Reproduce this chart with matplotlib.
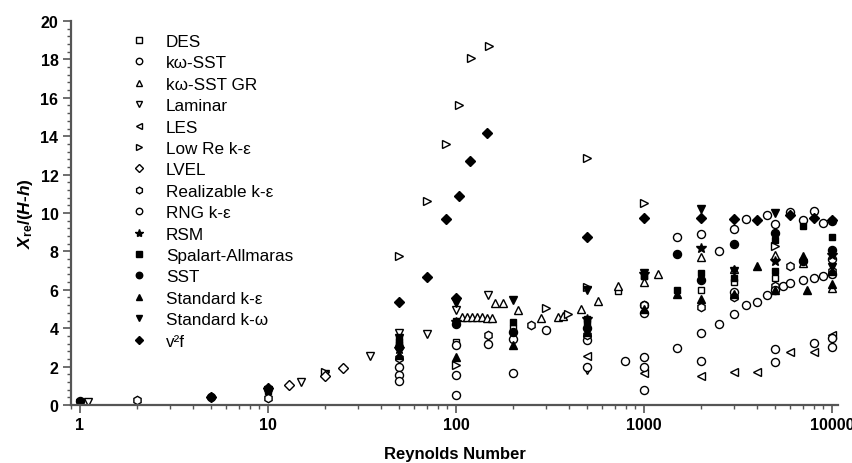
import matplotlib
matplotlib.use("Agg")
import matplotlib.pyplot as plt
from matplotlib.ticker import AutoMinorLocator, LogLocator, NullFormatter

plt.rcParams['font.family'] = ['Liberation Sans', 'DejaVu Sans']
plt.rcParams['mathtext.fontset'] = 'custom'
plt.rcParams['mathtext.it'] = 'Liberation Sans:italic:bold'
plt.rcParams['mathtext.rm'] = 'Liberation Sans:bold'
plt.rcParams['mathtext.bf'] = 'Liberation Sans:bold'

# ---------------- data (Reynolds number, Xre/(H-h)) ----------------
des_x = [50, 50, 100, 200, 500, 730, 1000, 2000, 3000, 5000, 10000]
des_y = [3.2, 3.55, 3.3, 4.0, 4.5, 5.95, 6.7, 6.0, 6.4, 6.6, 6.8]

kwsst_x = [50, 100, 200, 500, 1000, 1000, 1500, 2000, 2500, 3000, 3000, 3500, 4500, 5000, 6000, 7000, 8000, 9000, 10000]
kwsst_y = [2.0, 3.1, 3.45, 3.4, 4.8, 5.2, 8.74, 8.9, 8.0, 9.17, 5.9, 9.7, 9.87, 9.45, 10.04, 9.62, 10.13, 9.5, 7.6]

kwsstgr_x = [108, 115, 122, 130, 138, 146, 155, 161, 177, 214, 282, 350, 372, 465, 569, 730, 1000, 1184, 2000, 3000, 5000, 7000, 10000]
kwsstgr_y = [4.6, 4.6, 4.58, 4.58, 4.57, 4.55, 4.55, 5.31, 5.31, 4.96, 4.52, 4.58, 4.65, 5.01, 5.4, 6.18, 6.4, 6.84, 7.7, 7.1, 7.8, 7.4, 6.1]

laminar_x = [1.1, 15, 20, 35, 50, 70, 100, 148, 500]
laminar_y = [0.15, 1.2, 1.6, 2.56, 3.75, 3.7, 4.96, 5.74, 1.8]

les_x = [500, 1000, 2000, 3000, 4000, 6000, 8000, 10000]
les_y = [2.56, 1.66, 1.53, 1.74, 1.74, 2.78, 2.78, 3.66]

lowre_x = [20, 50, 70, 89, 104, 120, 149, 100, 300, 396, 500, 500, 1000, 5000]
lowre_y = [1.7, 7.74, 10.65, 13.6, 15.65, 18.05, 18.7, 2.09, 5.05, 4.75, 12.88, 6.15, 10.5, 8.27]

lvel_x = [13, 20, 25]
lvel_y = [1.05, 1.5, 1.95]

real_x = [2, 10, 50, 148, 250, 500, 1000, 2000, 3000, 5000, 6000, 10000]
real_y = [0.25, 0.35, 2.45, 3.66, 4.18, 3.65, 5.2, 5.13, 5.65, 6.21, 7.22, 7.0]

rng_x = [50, 50, 100, 100, 148, 200, 300, 500, 793, 1000, 1000, 1000, 1500, 2000, 2000, 2500, 3000, 3500, 4000,
         4500, 5000, 5000, 5000, 5500, 6000, 7000, 8000, 8000, 9000, 10000, 10000, 10000]
rng_y = [1.57, 1.27, 1.57, 0.52, 3.19, 1.69, 3.92, 2.0, 2.3, 2.5, 2.0, 0.78, 2.96, 3.74, 2.31, 4.21, 4.73, 5.22, 5.36,
         5.71, 6.0, 2.91, 2.26, 6.2, 6.37, 6.5, 6.6, 3.22, 6.7, 6.8, 3.5, 3.03]

rsm_x = [50, 100, 500, 1000, 2000, 5000, 10000]
rsm_y = [2.9, 4.3, 4.5, 6.8, 8.2, 7.5, 7.8]

sa_x = [1, 10, 50, 100, 200, 500, 1000, 1500, 2000, 3000, 5000, 5000, 7000, 10000]
sa_y = [0.15, 0.75, 3.3, 4.4, 4.3, 4.3, 6.7, 6.0, 6.9, 6.6, 8.58, 7.0, 9.31, 8.76]

sst_x = [1, 5, 10, 50, 100, 200, 500, 1500, 2000, 3000, 5000, 7000, 10000, 10000]
sst_y = [0.2, 0.4, 0.85, 3.0, 4.2, 3.8, 4.0, 7.88, 6.5, 8.4, 8.96, 7.5, 8.09, 9.6]

ske_x = [50, 100, 200, 500, 1000, 1500, 2000, 3000, 4000, 5000, 7000, 7330, 10000, 10000]
ske_y = [2.6, 2.52, 3.13, 3.8, 5.0, 5.8, 5.5, 5.8, 7.22, 6.0, 7.74, 6.0, 6.3, 7.0]

skw_x = [1, 10, 50, 100, 200, 500, 1000, 2000, 3000, 5000, 10000]
skw_y = [0.1, 0.8, 3.5, 5.3, 5.48, 6.0, 6.9, 10.2, 7.0, 10.0, 7.2]

v2f_x = [5, 10, 50, 70, 89, 100, 104, 119, 147, 500, 1000, 2000, 3000, 4000, 6000, 8000, 10000]
v2f_y = [0.4, 0.9, 5.34, 6.68, 9.7, 5.58, 10.9, 12.72, 14.15, 8.77, 9.75, 9.75, 9.7, 9.66, 9.88, 9.75, 9.62]

series = [
    ("DES", des_x, des_y, "s", False),
    ("k\u03c9-SST", kwsst_x, kwsst_y, "o", False),
    ("k\u03c9-SST GR", kwsstgr_x, kwsstgr_y, "^", False),
    ("Laminar", laminar_x, laminar_y, "v", False),
    ("LES", les_x, les_y, "<", False),
    ("Low Re k-\u03b5", lowre_x, lowre_y, ">", False),
    ("LVEL", lvel_x, lvel_y, "D", False),
    ("Realizable k-\u03b5", real_x, real_y, "h", False),
    ("RNG k-\u03b5", rng_x, rng_y, "o", False),
    ("RSM", rsm_x, rsm_y, "*", True),
    ("Spalart-Allmaras", sa_x, sa_y, "s", True),
    ("SST", sst_x, sst_y, "o", True),
    ("Standard k-\u03b5", ske_x, ske_y, "^", True),
    ("Standard k-\u03c9", skw_x, skw_y, "v", True),
    ("v\u00b2f", v2f_x, v2f_y, "D", True),
]

fig = plt.figure(figsize=(8.53, 4.64), dpi=100)
ax = fig.add_axes([71 / 853, 1 - 406 / 464, (838 - 71) / 853, (406 - 22) / 464])

sizes = {"s": 4.8, "o": 5.8, "^": 6.0, "v": 6.0, "<": 6.0, ">": 6.0, "D": 4.8, "h": 6.0, "*": 7.5}
for name, xs, ys, m, filled in series:
    ax.plot(xs, ys, linestyle="none", marker=m, markersize=sizes[m],
            markerfacecolor="black" if filled else "white",
            markeredgecolor="black", markeredgewidth=1.0, label=name)

ax.set_xscale("log")
ax.set_xlim(0.896, 10760)
ax.set_ylim(0, 20)
ax.set_xticks([1, 10, 100, 1000, 10000])
ax.set_xticklabels(["1", "10", "100", "1000", "10000"])
ax.xaxis.set_minor_locator(LogLocator(base=10, subs=range(2, 10)))
ax.xaxis.set_minor_formatter(NullFormatter())
ax.set_yticks(range(0, 21, 2))
ax.yaxis.set_minor_locator(AutoMinorLocator(5))

for s in ["top", "right"]:
    ax.spines[s].set_visible(False)
for s in ["left", "bottom"]:
    ax.spines[s].set_color("#555555")
    ax.spines[s].set_linewidth(1.6)
ax.tick_params(which="major", direction="out", length=6, width=1.2, color="#555555",
               labelsize=11.5, pad=3)
ax.tick_params(which="minor", direction="out", length=3, width=1.0, color="#555555")
for lab in ax.get_xticklabels() + ax.get_yticklabels():
    lab.set_fontweight("bold")

ax.set_xlabel("Reynolds Number", fontsize=12, fontweight="bold", labelpad=10)
ax.set_ylabel(r"$X_{\rm re}/(H$-$h)$", fontsize=12.5, fontweight="bold", labelpad=4)

leg = ax.legend(loc="upper left", bbox_to_anchor=(130 / 853, 1 - 35 / 464), bbox_transform=fig.transFigure,
                frameon=False, fontsize=12.3, markerscale=0.8, handlelength=1.0, handletextpad=1.1,
                labelspacing=0.375, borderpad=0, borderaxespad=0)

fig.savefig("out.png", dpi=100)
